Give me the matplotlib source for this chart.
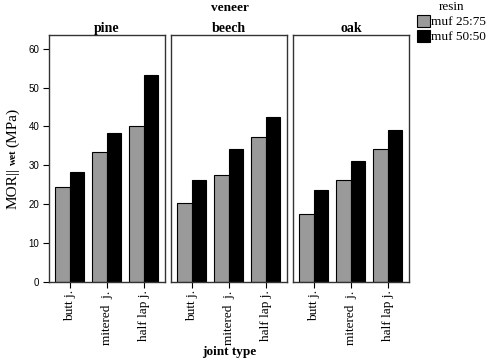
import numpy as np
import matplotlib
matplotlib.use("Agg")
import matplotlib.pyplot as plt

# data
veneers = ["pine", "beech", "oak"]
joints = ["butt j.", "mitered  j.", "half lap j."]
resins = ["muf 25:75", "muf 50:50"]
mor_2575 = [[24.3, 33.3, 40.2],   # pine
            [20.2, 27.6, 37.2],   # beech
            [17.6, 26.2, 34.1]]   # oak
mor_5050 = [[28.3, 38.2, 53.2],
            [26.2, 34.3, 42.3],
            [23.6, 31.1, 39.2]]
bar_colors = ["#9a9a9a", "#000000"]

serif = "Liberation Serif"
sans = "Liberation Sans"

fig = plt.figure(figsize=(4.88, 3.64), dpi=100)
lefts = [49, 171, 293]
W, H = 488, 364
x = np.arange(len(joints))
bw = 0.39
for i, v in enumerate(veneers):
    ax = fig.add_axes([lefts[i] / W, 1 - 282 / H, 116 / W, (282 - 35) / H])
    b1 = ax.bar(x - bw / 2, mor_2575[i], bw, color=bar_colors[0], edgecolor="black", linewidth=0.8, label=resins[0])
    b2 = ax.bar(x + bw / 2, mor_5050[i], bw, color=bar_colors[1], edgecolor="black", linewidth=0.8, label=resins[1])
    ax.set_xlim(-0.56, 2.57)
    ax.set_ylim(0, 63.5)
    ax.set_xticks(x)
    ax.set_xticklabels(joints, rotation=90, fontfamily=serif, fontsize=9.5)
    ax.set_title(v, fontfamily=serif, fontweight="bold", fontsize=10, pad=1)
    for s in ax.spines.values():
        s.set_color("#333333")
        s.set_linewidth(1.0)
    ax.tick_params(axis="x", length=4, width=0.8, pad=2)
    if i == 0:
        ax.set_yticks(np.arange(0, 61, 10))
        ax.tick_params(axis="y", length=4, width=0.8, labelsize=7, pad=3)
        for t in ax.get_yticklabels():
            t.set_fontfamily(sans)
    else:
        ax.set_yticks([])

fig.text(230 / W, 1 - 8 / H, "veneer", ha="center", va="center", fontfamily=serif, fontweight="bold", fontsize=9.5)
fig.text(229 / W, 1 - 352 / H, "joint type", ha="center", va="center", fontfamily=serif, fontweight="bold", fontsize=9.5)

# y label pieces: MOR|| (big), wet (small bold), (MPa)
fig.text(13 / W, 1 - 189 / H, "MOR||", rotation=90, ha="center", va="center", fontfamily=serif, fontsize=11)
fig.text(13 / W, 1 - 157 / H, "wet", rotation=90, ha="center", va="center", fontfamily=serif, fontweight="bold", fontsize=7.5)
fig.text(13 / W, 1 - 127 / H, "(MPa)", rotation=90, ha="center", va="center", fontfamily=serif, fontsize=11)

leg = fig.legend(handles=[b1, b2], labels=resins, loc="upper left", bbox_to_anchor=(416 / W, 1 - 0 / H),
                 frameon=False, title="resin", handlelength=0.95, handleheight=1.0, handletextpad=0.1,
                 labelspacing=0.12, borderaxespad=0, borderpad=0.1,
                 prop={"family": serif, "size": 9.5}, title_fontproperties={"family": serif, "size": 9.5})

fig.savefig("out.png", dpi=100)
